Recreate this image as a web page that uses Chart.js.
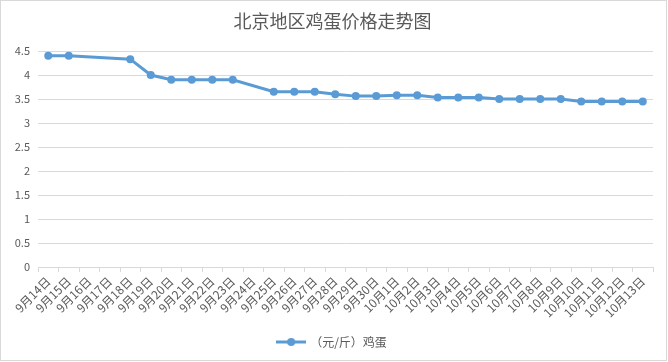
<!DOCTYPE html>
<html>
<head>
<meta charset="utf-8">
<script src="https://cdn.jsdelivr.net/npm/chart.js@4/dist/chart.umd.min.js"></script>
<style>
  html, body { margin: 0; padding: 0; background: #fff; }
  #wrap { width: 668px; height: 362px; position: relative; }
</style>
</head>
<body>
<div id="wrap"><canvas id="c" width="668" height="362"></canvas></div>
<script>
const categories = ["9月14日","9月15日","9月16日","9月17日","9月18日","9月19日","9月20日","9月21日","9月22日","9月23日","9月24日","9月25日","9月26日","9月27日","9月28日","9月29日","9月30日","10月1日","10月2日","10月3日","10月4日","10月5日","10月6日","10月7日","10月8日","10月9日","10月10日","10月11日","10月12日","10月13日"];
const eggPrices = [4.4, 4.4, null, null, 4.33, 4.0, 3.9, 3.9, 3.9, 3.9, null, 3.65, 3.65, 3.65, 3.6, 3.56, 3.56, 3.58, 3.58, 3.53, 3.53, 3.53, 3.5, 3.5, 3.5, 3.5, 3.45, 3.45, 3.45, 3.45];
const seriesName = "（元/斤）鸡蛋";
const chartTitle = "北京地区鸡蛋价格走势图";
const yTicks = { min: 0, max: 4.5, step: 0.5 };

const FONT = '"Microsoft YaHei", "Noto Sans CJK SC", sans-serif';
const TXT = '#595959';
const BLUE = '#5b9bd5';
const GRID = '#d9d9d9';

// legend marker: line with a dot
const mk = document.createElement('canvas');
mk.width = 30; mk.height = 10;
(function(){
  const g = mk.getContext('2d');
  g.strokeStyle = BLUE; g.lineWidth = 3; g.lineCap = 'butt';
  g.beginPath(); g.moveTo(0, 5); g.lineTo(30, 5); g.stroke();
  g.fillStyle = BLUE; g.beginPath(); g.arc(15, 5, 4, 0, Math.PI * 2); g.fill();
})();

const borderPlugin = {
  id: 'outerBorder',
  afterDraw(chart) {
    const ctx = chart.ctx;
    ctx.save();
    ctx.strokeStyle = GRID;
    ctx.lineWidth = 1;
    ctx.strokeRect(0.5, 0.5, 666, 360);
    ctx.restore();
  }
};

new Chart(document.getElementById('c'), {
  type: 'line',
  data: {
    labels: categories,
    datasets: [{
      label: seriesName,
      data: eggPrices,
      borderColor: BLUE,
      backgroundColor: BLUE,
      borderWidth: 3,
      pointRadius: 4,
      pointHoverRadius: 4,
      pointBackgroundColor: BLUE,
      pointBorderColor: BLUE,
      pointBorderWidth: 0,
      tension: 0,
      spanGaps: true,
      fill: false
    }]
  },
  options: {
    responsive: false,
    animation: false,
    events: [],
    layout: { padding: { left: 12, right: 15, top: 0, bottom: 4 } },
    plugins: {
      title: {
        display: true,
        text: chartTitle,
        color: TXT,
        font: { family: FONT, size: 18, weight: 'normal' },
        padding: { top: 10, bottom: 19.4 }
      },
      legend: {
        display: true,
        position: 'bottom',
        labels: {
          color: TXT,
          font: { family: FONT, size: 12 },
          usePointStyle: true,
          pointStyleWidth: 26,
          padding: 10,
          generateLabels(chart) {
            return [{
              text: seriesName,
              fillStyle: BLUE,
              strokeStyle: BLUE,
              lineWidth: 0,
              pointStyle: mk,
              fontColor: TXT,
              datasetIndex: 0
            }];
          }
        }
      },
      tooltip: { enabled: false }
    },
    scales: {
      x: {
        type: 'category',
        offset: true,
        grid: {
          offset: true,
          drawOnChartArea: false,
          drawTicks: true,
          tickLength: 5,
          color: GRID
        },
        border: { display: true, color: GRID, width: 1 },
        ticks: {
          autoSkip: false,
          minRotation: 45,
          maxRotation: 45,
          color: TXT,
          padding: 2,
          font: { family: FONT, size: 12 }
        },
        afterFit(scale) { scale.height = 59; }
      },
      y: {
        min: yTicks.min,
        max: yTicks.max,
        grid: { color: GRID, drawTicks: false, lineWidth: 1 },
        border: { display: false },
        ticks: {
          stepSize: yTicks.step,
          color: TXT,
          padding: 8,
          font: { family: FONT, size: 11 },
          callback(v) { return String(Math.round(v * 10) / 10); }
        },
        afterFit(scale) { scale.width = 26; }
      }
    }
  },
  plugins: [borderPlugin]
});
</script>
</body>
</html>
